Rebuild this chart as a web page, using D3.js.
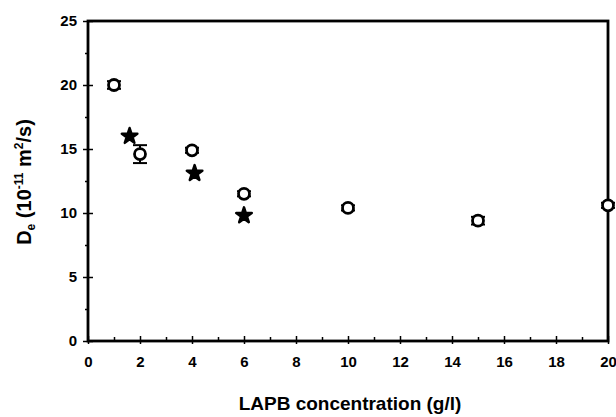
<!DOCTYPE html>
<html>
<head>
<meta charset="utf-8">
<script src="https://cdn.jsdelivr.net/npm/d3@7"></script>
<style>
  body { margin: 0; background: #fff; }
  svg { display: block; font-family: "Liberation Sans", Arial, sans-serif; font-weight: bold; }
</style>
</head>
<body>
<div id="chart"></div>
<script>
// open circles with small error bars
const circleX = [1, 2, 4, 6, 10, 15, 20]
const circleY = [20, 14.6, 14.9, 11.5, 10.4, 9.4, 10.6]
const circleErr = [0.3, 0.7, 0.2, 0.2, 0.2, 0.3, 0.2]
// filled stars
const starX = [1.6, 4.1, 6.0]
const starY = [16.0, 13.1, 9.8]

const xTicks = [0, 2, 4, 6, 8, 10, 12, 14, 16, 18, 20]
const yTicks = [0, 5, 10, 15, 20, 25]

const width = 616, height = 417
const margin = {top: 21, right: 8, bottom: 76, left: 88}

const svg = d3.select("#chart").append("svg")
  .attr("width", width).attr("height", height)

let x = d3.scaleLinear().domain([0, 20]).range([margin.left, width - margin.right])
let y = d3.scaleLinear().domain([0, 25]).range([height - margin.bottom, margin.top])

// frame
svg.append("rect")
  .attr("x", x(0)).attr("y", y(25))
  .attr("width", x(20) - x(0)).attr("height", y(0) - y(25))
  .attr("fill", "none").attr("stroke", "#000").attr("stroke-width", 2.8)

// x axis: major ticks at 2, minor at 1
svg.append("g")
  .attr("transform", `translate(0,${y(0)})`)
  .call(d3.axisBottom(x).tickValues(d3.range(1, 20, 2)).tickSize(-4).tickFormat(""))
  .call(g => g.select(".domain").remove())
  .call(g => g.selectAll("line").attr("stroke-width", 1.5))

svg.append("g")
  .attr("transform", `translate(0,${y(0)})`)
  .call(d3.axisBottom(x).tickValues(xTicks).tickSize(3).tickPadding(12))
  .call(g => g.select(".domain").remove())
  .call(g => g.selectAll("line").attr("y1", -5).attr("stroke-width", 1.5))
  .call(g => g.selectAll("text").attr("font-size", 15).attr("font-weight", "bold")
    .attr("font-family", "Liberation Sans, Arial, sans-serif"))

// y axis: major at 5, minor at 2.5
svg.append("g")
  .attr("transform", `translate(${x(0)},0)`)
  .call(d3.axisLeft(y).tickValues(d3.range(2.5, 25, 5)).tickSize(3).tickFormat(""))
  .call(g => g.select(".domain").remove())
  .call(g => g.selectAll("line").attr("stroke-width", 1.5))

svg.append("g")
  .attr("transform", `translate(${x(0)},0)`)
  .call(d3.axisLeft(y).tickValues(yTicks).tickSize(5).tickPadding(6))
  .call(g => g.select(".domain").remove())
  .call(g => g.selectAll("line").attr("x1", 5).attr("stroke-width", 1.5))
  .call(g => g.selectAll("text").attr("font-size", 15).attr("font-weight", "bold")
    .attr("font-family", "Liberation Sans, Arial, sans-serif"))

// error bars
let circles = circleX.map((d, i) => ({x: d, y: circleY[i], e: circleErr[i]}))
let eb = svg.append("g").attr("stroke", "#000").attr("stroke-width", 2)
eb.selectAll("line.v").data(circles).join("line")
  .attr("x1", d => x(d.x)).attr("x2", d => x(d.x))
  .attr("y1", d => y(d.y - d.e)).attr("y2", d => y(d.y + d.e))
eb.selectAll("line.t").data(circles).join("line")
  .attr("x1", d => x(d.x) - 7).attr("x2", d => x(d.x) + 7)
  .attr("y1", d => y(d.y + d.e)).attr("y2", d => y(d.y + d.e))
eb.selectAll("line.b").data(circles).join("line")
  .attr("x1", d => x(d.x) - 7).attr("x2", d => x(d.x) + 7)
  .attr("y1", d => y(d.y - d.e)).attr("y2", d => y(d.y - d.e))

// open circles
svg.append("g").selectAll("circle").data(circles).join("circle")
  .attr("cx", d => x(d.x)).attr("cy", d => y(d.y)).attr("r", 5.5)
  .attr("fill", "#fff").attr("stroke", "#000").attr("stroke-width", 2.8)

// filled stars
let star = d3.symbol().type(d3.symbolStar).size(75)
svg.append("g").selectAll("path").data(starX.map((d, i) => ({x: d, y: starY[i]}))).join("path")
  .attr("transform", d => `translate(${x(d.x)},${y(d.y)})`)
  .attr("d", star).attr("fill", "#000").attr("stroke", "#000")
  .attr("stroke-width", 2.5).attr("stroke-linejoin", "round")

// axis titles
svg.append("text")
  .attr("x", (x(0) + x(20)) / 2 + 2).attr("y", 410)
  .attr("text-anchor", "middle").attr("font-size", 19)
  .text("LAPB concentration (g/l)")

let yt = svg.append("text")
  .attr("transform", `translate(31,182) rotate(-90)`)
  .attr("text-anchor", "middle").attr("font-size", 20)
yt.append("tspan").text("D")
yt.append("tspan").attr("font-size", 12).attr("dy", 4).text("e")
yt.append("tspan").attr("dy", -4).text(" (10")
yt.append("tspan").attr("font-size", 12).attr("dy", -8).text("-11")
yt.append("tspan").attr("dy", 8).text(" m")
yt.append("tspan").attr("font-size", 12).attr("dy", -8).text("2")
yt.append("tspan").attr("dy", 8).text("/s)")
</script>
</body>
</html>
